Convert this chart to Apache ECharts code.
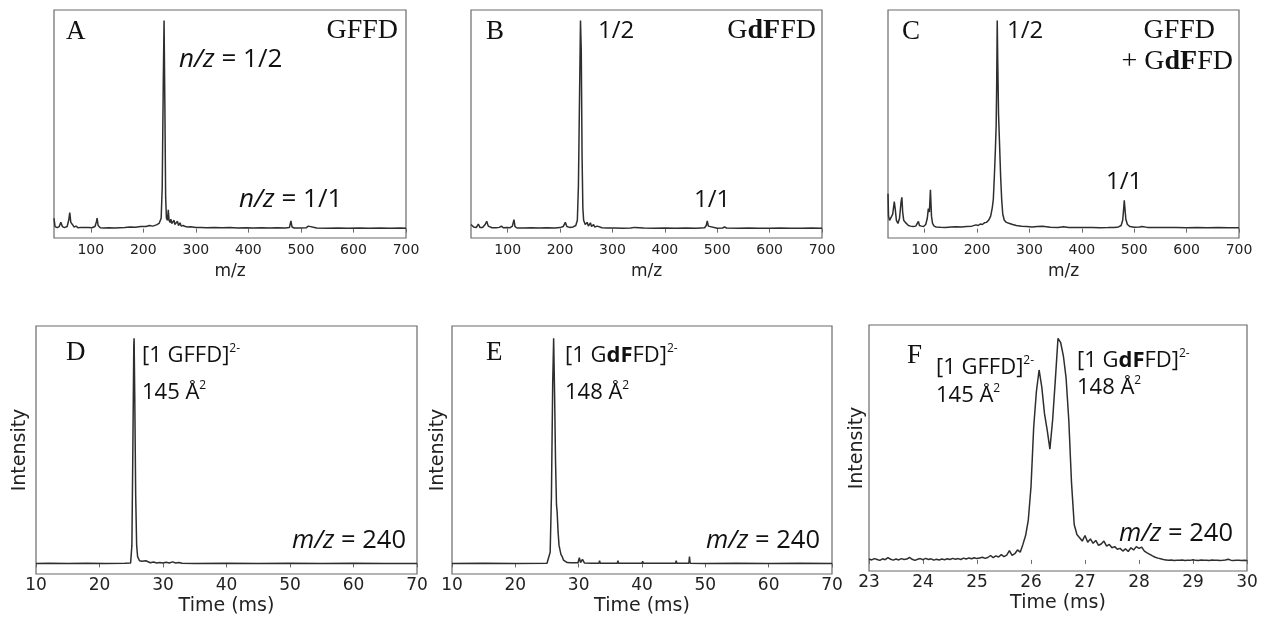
<!DOCTYPE html>
<html>
<head>
<meta charset="utf-8">
<script src="https://cdn.jsdelivr.net/npm/echarts@6/dist/echarts.min.js"></script>
<style>
html,body{margin:0;padding:0;background:#fff;}
#chart{width:1262px;height:625px;}
</style>
</head>
<body>
<div id="chart"></div>
<script>
// ---------- DATA ----------
// Panel A: GFFD mass spectrum (m/z, relative intensity)
const mzA  = [30,32,36,40,43,46,50,55,58,60,62,65,68,72,76,82,88,95,102,108,111,112,114,118,125,135,145,155,165,175,185,195,205,212,218,225,230,234,236,238,239.5,241,242.5,244,246,247.5,249,251,252.5,254,256,258.5,260,262,265,267,270,272,276,280,285,290,300,310,320,335,350,365,380,395,410,425,440,455,470,478,481,483,487,500,510,514,517,530,550,570,590,610,630,650,670,690,700];
const intA = [0.05,0.01,0.005,0.01,0.03,0.01,0.005,0.01,0.04,0.077,0.03,0.02,0.008,0.012,0.004,0.006,0.005,0.006,0.004,0.01,0.035,0.05,0.015,0.004,0.003,0.004,0.003,0.004,0.005,0.008,0.007,0.01,0.01,0.015,0.012,0.018,0.025,0.05,0.2,0.7,1.0,0.6,0.15,0.05,0.04,0.09,0.04,0.03,0.045,0.025,0.02,0.04,0.02,0.018,0.035,0.015,0.028,0.012,0.015,0.01,0.008,0.009,0.005,0.006,0.004,0.005,0.004,0.005,0.003,0.004,0.003,0.004,0.003,0.004,0.003,0.005,0.037,0.008,0.003,0.003,0.004,0.012,0.004,0.003,0.002,0.003,0.002,0.003,0.002,0.003,0.002,0.003,0.002];

// Panel B: GdFFD mass spectrum
const mzB  = [30,35,40,44,47,52,57,60,63,66,70,78,84,88,92,98,104,109,112,114,118,130,145,160,175,190,200,206,210,213,218,225,230,233,235,237,239,240.5,242,243.5,245,248,252,254,258,260,264,266,271,274,280,290,305,320,335,342,345,360,380,400,420,440,460,476,479,481,483,486,500,510,514,518,540,560,580,600,620,640,660,680,700];
const intB = [0.02,0.008,0.005,0.022,0.006,0.005,0.02,0.035,0.012,0.015,0.004,0.004,0.006,0.012,0.004,0.005,0.004,0.012,0.043,0.01,0.003,0.003,0.004,0.003,0.004,0.003,0.005,0.01,0.03,0.01,0.006,0.008,0.015,0.04,0.2,0.6,1.0,0.85,0.35,0.1,0.04,0.02,0.03,0.012,0.028,0.01,0.02,0.008,0.012,0.005,0.004,0.003,0.003,0.002,0.003,0.006,0.002,0.003,0.002,0.003,0.002,0.003,0.002,0.004,0.015,0.037,0.012,0.003,0.002,0.003,0.008,0.003,0.002,0.003,0.002,0.002,0.003,0.002,0.002,0.003,0.002];

// Panel C: GFFD + GdFFD mass spectrum
const mzC  = [30,31,33,36,39,42,44,46,49,52,55,56.5,58,60,63,66,69,73,78,83,86,88,90,94,98,102,105,107,109,111,113,115,118,122,130,140,150,160,170,180,190,198,202,206,210,214,218,222,226,229,231,233,235,236.5,237.5,238.5,239.5,241,243,245,247,249,252,256,262,268,275,285,295,305,315,325,327,340,355,365,375,390,405,420,435,450,462,470,475,478,480,481,482.5,484,487,492,500,510,515,525,540,560,580,600,620,640,660,680,700];
const intC = [0.168,0.06,0.04,0.035,0.07,0.13,0.09,0.04,0.025,0.05,0.13,0.15,0.08,0.04,0.03,0.035,0.015,0.012,0.01,0.012,0.02,0.035,0.015,0.012,0.01,0.02,0.05,0.096,0.08,0.187,0.06,0.025,0.012,0.008,0.007,0.006,0.008,0.009,0.008,0.01,0.012,0.018,0.015,0.022,0.02,0.028,0.03,0.04,0.06,0.1,0.14,0.25,0.38,0.5,0.7,1.0,0.8,0.55,0.4,0.25,0.14,0.07,0.04,0.03,0.025,0.02,0.015,0.012,0.01,0.008,0.01,0.012,0.006,0.007,0.006,0.009,0.005,0.006,0.005,0.006,0.004,0.005,0.006,0.008,0.015,0.04,0.1,0.136,0.09,0.045,0.02,0.01,0.007,0.008,0.01,0.006,0.005,0.006,0.005,0.004,0.005,0.004,0.005,0.004,0.004];

// Panel D: arrival time distribution, GFFD, m/z 240
const tD   = [10,12,15,18,21,24,24.9,25.1,25.25,25.4,25.45,25.55,25.7,25.85,26.0,26.3,26.5,26.7,27.0,27.3,27.6,28.0,28.5,29,29.5,30,30.5,31,31.5,32,32.5,33,35,40,45,50,55,60,65,70];
const vD   = [0,0.001,0,0.001,0,0.001,0.002,0.08,0.5,0.97,1.0,0.75,0.3,0.08,0.03,0.012,0.02,0.01,0.018,0.012,0.006,0.003,0.006,0.002,0.004,0.002,0.005,0.002,0.007,0.002,0.004,0.001,0,0.001,0,0.001,0,0.001,0,0];

// Panel E: arrival time distribution, GdFFD, m/z 240
const tE   = [10,15,20,25,25.3,25.5,25.7,25.9,26.05,26.2,26.35,26.5,26.6,26.75,26.9,27.05,27.2,27.4,27.6,27.8,28.2,28.5,28.7,29.0,29.3,29.6,29.9,30.1,30.3,30.6,30.9,32,33.2,33.3,33.4,36.1,36.2,36.3,40.0,40.1,40.2,45.3,45.4,45.5,47.4,47.5,47.6,50,55,60,65,70];
const vE   = [0,0.001,0,0.001,0.003,0.05,0.3,0.8,1.0,0.75,0.45,0.26,0.23,0.14,0.08,0.06,0.04,0.03,0.015,0.008,0.004,0.012,0.003,0.01,0.003,0.008,0.003,0.025,0.004,0.018,0.002,0.001,0.001,0.012,0.001,0.001,0.012,0.001,0.001,0.01,0.001,0.001,0.012,0.001,0.001,0.03,0.001,0,0.001,0,0.001,0];

// Panel F: arrival time distribution, GFFD + GdFFD mixture, m/z 240
const tF = [23.00,23.05,23.10,23.15,23.20,23.25,23.30,23.35,23.40,23.45,23.50,23.55,23.60,23.65,23.70,23.75,23.80,23.85,23.90,23.95,
24.00,24.05,24.10,24.15,24.20,24.25,24.30,24.35,24.40,24.45,24.50,24.55,24.60,24.65,24.70,24.75,24.80,24.85,24.90,24.95,
25.00,25.05,25.10,25.15,25.20,25.25,25.30,25.35,25.40,25.45,25.50,25.55,25.60,25.65,25.70,25.75,25.80,25.85,25.90,25.95,
26.00,26.05,26.10,26.15,26.20,26.25,26.30,26.35,26.40,26.45,26.50,26.55,26.60,26.65,26.70,26.75,26.80,26.85,26.90,26.95,
27.00,27.05,27.10,27.15,27.20,27.25,27.30,27.35,27.40,27.45,27.50,27.55,27.60,27.65,27.70,27.75,27.80,27.85,27.90,27.95,
28.00,28.05,28.10,28.15,28.20,28.25,28.30,28.35,28.40,28.45,28.50,28.55,28.60,28.65,28.70,28.75,28.80,28.85,28.90,28.95,
29.00,29.05,29.10,29.15,29.20,29.25,29.30,29.35,29.40,29.45,29.50,29.55,29.60,29.65,29.70,29.75,29.80,29.85,29.90,29.95,30.00];
const vF = [0.004,0.000,0.006,0.002,-0.002,0.005,0.001,0.010,0.003,-0.001,0.004,0.000,0.006,0.002,0.004,0.011,0.003,-0.002,0.003,0.006,
0.001,0.007,0.002,0.005,-0.001,0.003,0.000,0.004,0.001,0.005,0.002,0.007,0.003,0.006,0.002,0.008,0.004,0.009,0.005,0.010,
0.006,0.009,0.012,0.007,0.011,0.020,0.010,0.018,0.013,0.024,0.015,0.022,0.042,0.020,0.028,0.045,0.035,0.070,0.110,0.180,
0.330,0.600,0.760,0.857,0.780,0.660,0.586,0.500,0.630,0.810,1.000,0.980,0.920,0.820,0.630,0.350,0.160,0.115,0.100,0.085,
0.110,0.080,0.095,0.075,0.088,0.066,0.072,0.085,0.062,0.070,0.055,0.060,0.048,0.052,0.040,0.050,0.038,0.055,0.045,0.060,
0.052,0.058,0.040,0.032,0.025,0.018,0.012,0.008,0.005,0.002,0.000,-0.002,0.000,-0.003,-0.001,-0.002,0.000,-0.003,-0.001,-0.002,
0.001,-0.002,-0.003,0.000,-0.002,-0.001,-0.003,0.000,-0.002,-0.001,-0.003,-0.002,0.000,0.003,-0.001,-0.003,-0.002,-0.001,-0.003,-0.002,-0.003];

// Tick labels
const mzTicks   = [100,200,300,400,500,600,700];
const timeTicksDE = [10,20,30,40,50,60,70];
const timeTicksF  = [23,24,25,26,27,28,29,30];

// ---------- CHART ----------
const chart = echarts.init(document.getElementById('chart'), null, {renderer:'canvas'});
const zip = (xs, ys) => xs.map((x,i)=>[x, ys[i]]);

const FRAME = '#6a6a6a';
const LINE = '#2e2e2e';
const TICKFONT = 'DejaVu Sans';
const SANS = 'Open Sans';
const SERIF = 'Liberation Serif';

const grids = [
  {left:54,  top:10, width:352, height:228},
  {left:471, top:10, width:351, height:228},
  {left:888, top:10, width:351, height:228},
  {left:36,  top:326, width:381, height:248},
  {left:452, top:326, width:380, height:248},
  {left:869, top:325, width:378, height:246}
].map(g => Object.assign({show:true, borderColor:FRAME, borderWidth:1.2, backgroundColor:'transparent'}, g));

function topX(i){
  return {
    type:'value', gridIndex:i, min:30, max:700,
    name:'m/z', nameLocation:'middle', nameGap:25,
    nameTextStyle:{fontFamily:TICKFONT, fontSize:17, color:'#222'},
    axisLine:{show:false},
    axisTick:{show:true, inside:false, length:4, lineStyle:{color:FRAME}, customValues:mzTicks},
    axisLabel:{fontFamily:TICKFONT, fontSize:14, color:'#222', margin:5, customValues:mzTicks},
    splitLine:{show:false}
  };
}
function botX(i, mn, mx, ticks){
  return {
    type:'value', gridIndex:i, min:mn, max:mx, interval: ticks[1]-ticks[0],
    name:'Time (ms)', nameLocation:'middle', nameGap:23,
    nameTextStyle:{fontFamily:TICKFONT, fontSize:19, color:'#222'},
    axisLine:{show:false},
    axisTick:{show:true, inside:false, length:4, lineStyle:{color:FRAME}},
    axisLabel:{fontFamily:TICKFONT, fontSize:17, color:'#222', margin:3},
    splitLine:{show:false}
  };
}
function yAx(i, mn, mx, withName, gap){
  return {
    type:'value', gridIndex:i, min:mn, max:mx,
    name: withName ? 'Intensity' : '', nameLocation:'middle', nameGap:gap||6,
    nameTextStyle:{fontFamily:TICKFONT, fontSize:19, color:'#222'},
    axisLine:{show:false}, axisTick:{show:false}, axisLabel:{show:false}, splitLine:{show:false}
  };
}

const xAxes = [topX(0), topX(1), topX(2),
  botX(3, 10, 70, timeTicksDE), botX(4, 10, 70, timeTicksDE), botX(5, 23, 30, timeTicksF)];
const yAxes = [yAx(0,-0.045,1.05,false), yAx(1,-0.045,1.05,false), yAx(2,-0.045,1.05,false),
  yAx(3,-0.047,1.055,true,6), yAx(4,-0.047,1.055,true,4), yAx(5,-0.05,1.06,true,2)];

const datasets = [zip(mzA,intA), zip(mzB,intB), zip(mzC,intC), zip(tD,vD), zip(tE,vE), zip(tF,vF)];
const series = datasets.map((d,i)=>({
  type:'line', xAxisIndex:i, yAxisIndex:i, data:d, showSymbol:false, symbol:'none',
  lineStyle:{color:LINE, width:1.5}, clip:true, animation:false
}));

// text helpers
function txt(x, y, text, font, size, align, rich){
  return {
    type:'text', x:x, y:y, silent:true,
    style:{text:text, fontFamily:font, fontSize:size, fill:'#111', align:align||'left', verticalAlign:'middle', rich:rich||undefined}
  };
}
const serifRich = (size)=>({
  r:{fontFamily:SERIF, fontSize:size, fill:'#111'},
  b:{fontFamily:SERIF, fontSize:size, fontWeight:'bold', fill:'#111'}
});
const sansRich = (size)=>({
  r:{fontFamily:SANS, fontSize:size, fill:'#111', lineHeight:size+4},
  i:{fontFamily:SANS, fontSize:size, fontStyle:'italic', fill:'#111', lineHeight:size+4},
  b:{fontFamily:SANS, fontSize:size, fontWeight:'bold', fill:'#111', lineHeight:size+4},
  s:{fontFamily:SANS, fontSize:Math.round(size*0.55), fill:'#111', verticalAlign:'top', lineHeight:Math.round(size*0.55)+1}
});

const graphics = [
  // Panel A
  txt(66, 32, 'A', SERIF, 27),
  txt(398, 31, '{r|GFFD}', SERIF, 28, 'right', serifRich(28)),
  txt(179, 60, '{i|n/z}{r| = 1/2}', SANS, 26, 'left', sansRich(26)),
  txt(239, 200, '{i|n/z}{r| = 1/1}', SANS, 26, 'left', sansRich(26)),
  // Panel B
  txt(486, 32, 'B', SERIF, 27),
  txt(598, 31, '{r|1/2}', SANS, 24, 'left', sansRich(24)),
  txt(816, 31, '{r|G}{b|dF}{r|FD}', SERIF, 28, 'right', serifRich(28)),
  txt(694, 200, '{r|1/1}', SANS, 24, 'left', sansRich(24)),
  // Panel C
  txt(902, 32, 'C', SERIF, 27),
  txt(1007, 31, '{r|1/2}', SANS, 24, 'left', sansRich(24)),
  txt(1215, 31, '{r|GFFD}', SERIF, 28, 'right', serifRich(28)),
  txt(1233, 62, '{r|+ G}{b|dF}{r|FD}', SERIF, 28, 'right', serifRich(28)),
  txt(1106, 182, '{r|1/1}', SANS, 24, 'left', sansRich(24)),
  // Panel D
  txt(66, 353, 'D', SERIF, 27),
  txt(142, 356, '{r|[1 GFFD]}{s|2-}', SANS, 22, 'left', sansRich(22)),
  txt(142, 393, '{r|145 Å}{s|2}', SANS, 22, 'left', sansRich(22)),
  txt(406, 541, '{i|m/z}{r| = 240}', SANS, 25.5, 'right', sansRich(25.5)),
  // Panel E
  txt(486, 353, 'E', SERIF, 27),
  txt(565, 356, '{r|[1 G}{b|dF}{r|FD]}{s|2-}', SANS, 22, 'left', sansRich(22)),
  txt(565, 393, '{r|148 Å}{s|2}', SANS, 22, 'left', sansRich(22)),
  txt(820, 541, '{i|m/z}{r| = 240}', SANS, 25.5, 'right', sansRich(25.5)),
  // Panel F
  txt(907, 356, 'F', SERIF, 27),
  txt(936, 368, '{r|[1 GFFD]}{s|2-}', SANS, 22, 'left', sansRich(22)),
  txt(936, 396, '{r|145 Å}{s|2}', SANS, 22, 'left', sansRich(22)),
  txt(1077, 361, '{r|[1 G}{b|dF}{r|FD]}{s|2-}', SANS, 22, 'left', sansRich(22)),
  txt(1077, 388, '{r|148 Å}{s|2}', SANS, 22, 'left', sansRich(22)),
  txt(1233, 534, '{i|m/z}{r| = 240}', SANS, 25.5, 'right', sansRich(25.5))
];

chart.setOption({
  backgroundColor:'#fff',
  animation:false,
  grid: grids,
  xAxis: xAxes,
  yAxis: yAxes,
  series: series,
  graphic: graphics
});
</script>
</body>
</html>
